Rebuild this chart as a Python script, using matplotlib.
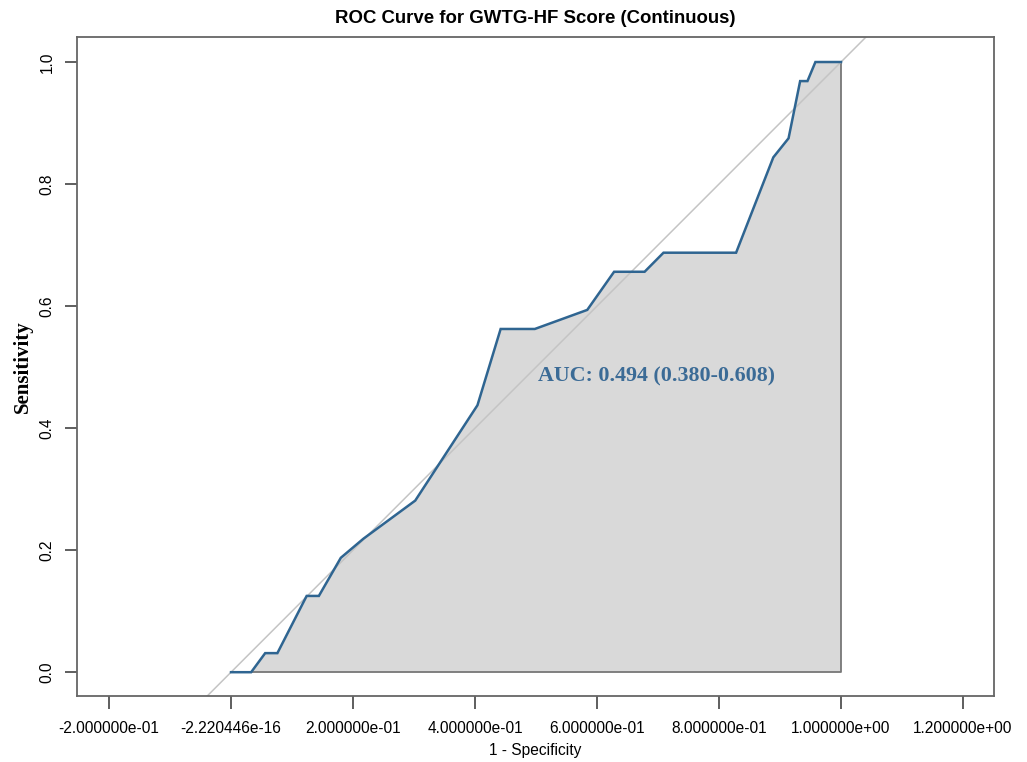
import matplotlib
matplotlib.use("Agg")
import matplotlib.pyplot as plt
import numpy as np

# empirical ROC points (1 - specificity, sensitivity)
fpr = [0.0, 0.033, 0.056, 0.076, 0.124, 0.144, 0.180, 0.217, 0.302, 0.404,
       0.442, 0.498, 0.584, 0.628, 0.678, 0.709, 0.828, 0.889, 0.914, 0.933,
       0.945, 0.958, 1.0]
tpr = [0.0, 0.0, 0.03125, 0.03125, 0.125, 0.125, 0.1875, 0.21875, 0.28125,
       0.4375, 0.5625, 0.5625, 0.59375, 0.65625, 0.65625, 0.6875, 0.6875,
       0.84375, 0.875, 0.96875, 0.96875, 1.0, 1.0]

auc_value = 0.494
auc_ci = (0.380, 0.608)

x_ticks = [-0.2, 0.0, 0.2, 0.4, 0.6, 0.8, 1.0, 1.2]
x_tick_labels = ["-2.000000e-01", "-2.220446e-16", "2.000000e-01", "4.000000e-01",
                 "6.000000e-01", "8.000000e-01", "1.000000e+00", "1.200000e+00"]
y_ticks = [0.0, 0.2, 0.4, 0.6, 0.8, 1.0]

CURVE = "#2f6591"
FILL = "#d9d9d9"
BOX = "#666666"

plt.rcParams["font.family"] = ["Liberation Sans", "DejaVu Sans"]

W, H = 1027, 762
fig = plt.figure(figsize=(W / 100, H / 100), dpi=100)
ax = fig.add_axes([77 / W, 1 - 696 / H, (994 - 77) / W, (696 - 37) / H])
ax.set_xlim(-0.2525, 1.2508)
ax.set_ylim(-0.039, 1.041)

# shaded area under the curve, closed along y=0 and x=1
poly_x = fpr + [1.0, 0.0]
poly_y = tpr + [0.0, 0.0]
ax.fill(poly_x, poly_y, color=FILL, lw=0, zorder=1)
ax.plot([0.0, 1.0, 1.0], [0.0, 0.0, 1.0], color="#777777", lw=1.3, zorder=2)

# chance diagonal
ax.axline((0, 0), (1, 1), color="#c4c4c4", lw=1.1, zorder=2)

ax.plot(fpr, tpr, color=CURVE, lw=1.8, zorder=3, solid_joinstyle="miter")

ax.text(0.503, 0.485, f"AUC: {auc_value:.3f} ({auc_ci[0]:.3f}-{auc_ci[1]:.3f})",
        family="Liberation Serif", fontweight="bold", fontsize=15.8,
        color="#3b6b96", ha="left", va="center", zorder=4)

for s in ax.spines.values():
    s.set_color(BOX)
    s.set_linewidth(1.3)

ax.set_xticks(x_ticks)
ax.set_xticklabels(x_tick_labels, fontsize=11.2)
ax.set_yticks(y_ticks)
ax.set_yticklabels([f"{v:.1f}" for v in y_ticks], fontsize=11.2, rotation=90, va="center")
ax.tick_params(axis="both", length=9, width=1.1, color="#333333", pad=9)
ax.tick_params(axis="y", pad=7)

ax.set_title("ROC Curve for GWTG-HF Score (Continuous)", fontsize=13.4,
             fontweight="bold", pad=10)
ax.set_xlabel("1 - Specificity", fontsize=11.2, labelpad=5)
ax.set_ylabel("Sensitivity", family="Liberation Serif", fontweight="bold",
              fontsize=15, labelpad=5)

fig.savefig("out.png", dpi=100)
